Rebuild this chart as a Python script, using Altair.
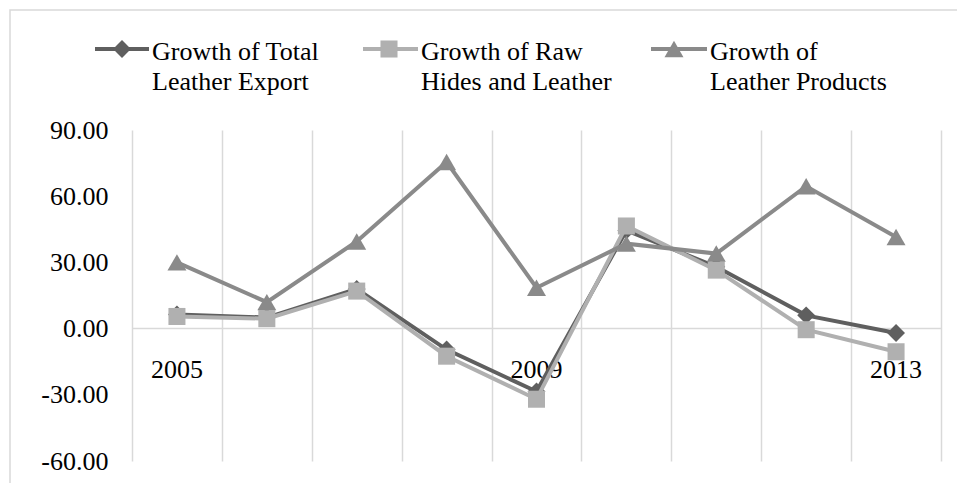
import altair as alt
import pandas as pd

years = ["2005", "2006", "2007", "2008", "2009", "2010", "2011", "2012", "2013"]
shown_year_labels = ["2005", "2009", "2013"]
series_names = [
    "Growth of Total Leather Export",
    "Growth of Raw Hides and Leather",
    "Growth of Leather Products",
]
legend_lines = [
    ["Growth of Total", "Leather Export"],
    ["Growth of Raw", "Hides and Leather"],
    ["Growth of", "Leather Products"],
]
total_export = [6.4, 5.0, 18.0, -9.5, -28.5, 44.5, 28.0, 6.0, -2.0]
raw_hides = [5.5, 4.5, 17.0, -12.5, -32.0, 46.5, 26.5, -0.5, -10.5]
leather_products = [30.0, 12.0, 39.5, 75.5, 18.5, 38.5, 34.0, 64.5, 41.5]
y_ticks = [-60, -30, 0, 30, 60, 90]

colors = ["#5f5f5f", "#b0b0b0", "#8a8a8a"]
shapes = ["diamond", "square", "triangle-up"]
sizes = [320, 290, 360]
FONT = "Liberation Serif"
FS = 26
GRID = "#d9d9d9"

values_by_series = [total_export, raw_hides, leather_products]

x_enc = alt.X(
    "year:O",
    sort=years,
    bandPosition=0.5,
    scale=alt.Scale(type="band", domain=years, paddingInner=0, paddingOuter=0),
    axis=alt.Axis(
        title=None, labels=False, ticks=False, domain=False, grid=True,
        tickBand="extent", gridColor=GRID, gridWidth=1.5,
    ),
)
y_scale = alt.Scale(domain=[-60, 90], nice=False, zero=False)
y_enc = alt.Y(
    "value:Q",
    scale=y_scale,
    axis=alt.Axis(
        title=None, values=y_ticks, grid=False, ticks=False, domain=False,
        labelFont=FONT, labelFontSize=FS, labelColor="#000000", labelPadding=24,
        labelExpr="(datum.value < 0 ? '-' : '') + format(abs(datum.value), '.2f')",
    ),
)

layers = []

# zero line
zero_df = pd.DataFrame({"value": [0]})
layers.append(
    alt.Chart(zero_df).mark_rule(color=GRID, strokeWidth=1.5).encode(y=y_enc)
)

# x labels near zero line
lab_df = pd.DataFrame({"year": shown_year_labels, "value": [0] * len(shown_year_labels)})
layers.append(
    alt.Chart(lab_df).mark_text(
        font=FONT, fontSize=FS, color="#000000", baseline="alphabetic", dy=49
    ).encode(x=x_enc, y=y_enc, text="year:N")
)

for name, vals, col, shp, sz in zip(series_names, values_by_series, colors, shapes, sizes):
    df = pd.DataFrame({"year": years, "value": vals, "series": name})
    base = alt.Chart(df).encode(x=x_enc, y=y_enc)
    layers.append(base.mark_line(color=col, strokeWidth=4))
    layers.append(base.mark_point(shape=shp, size=sz, filled=True, color=col, opacity=1))

# legend (manual, Excel style)
legend_x = [(-37, 17, -10, 20), (231, 286, 257, 289), (519, 575, 542, 578)]
legend_y = -81
for name, lines, col, shp, sz, (x0, x1, xm, xt) in zip(
    series_names, legend_lines, colors, shapes, sizes, legend_x
):
    ldf = pd.DataFrame({"name": [name], "label": ["\n".join(lines)]})
    lc = alt.Chart(ldf)
    layers.append(
        lc.mark_rule(color=col, strokeWidth=4).encode(
            x=alt.value(x0), x2=alt.value(x1), y=alt.value(legend_y)
        )
    )
    layers.append(
        lc.mark_point(shape=shp, size=sz, filled=True, color=col, opacity=1).encode(
            x=alt.value(xm), y=alt.value(legend_y)
        )
    )
    layers.append(
        lc.mark_text(
            font=FONT, fontSize=FS, color="#000000", align="left",
            baseline="alphabetic", lineBreak="\n", lineHeight=30,
        ).encode(x=alt.value(xt), y=alt.value(-70), text="label:N")
    )

# chart border
border_df = pd.DataFrame({"b": [1]})
layers.append(
    alt.Chart(border_df).mark_rect(fillOpacity=0, stroke=GRID, strokeWidth=1.5).encode(
        x=alt.value(-122), x2=alt.value(900), y=alt.value(-120), y2=alt.value(500)
    )
)

chart = (
    alt.layer(*layers)
    .properties(
        width=809,
        height=331,
        autosize=alt.AutoSizeParams(type="none"),
        padding={"left": 132, "top": 130, "right": 16, "bottom": 22},
        background="white",
    )
    .configure_view(stroke=None)
)

chart.save("out.html", embed_options={"renderer": "svg", "actions": False})
